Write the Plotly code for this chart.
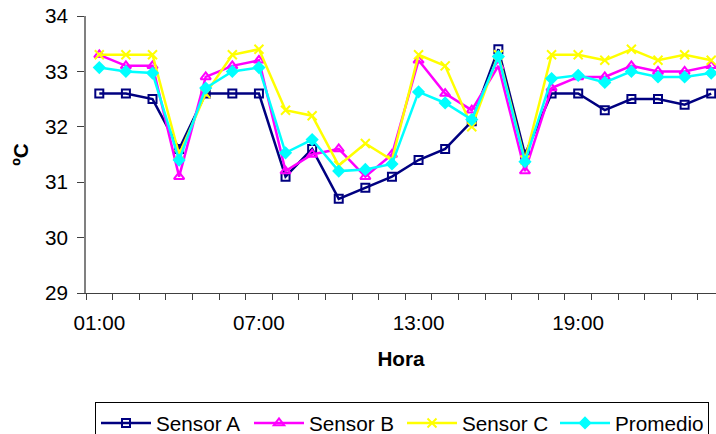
import plotly.graph_objects as go

hours = ["01:00", "02:00", "03:00", "04:00", "05:00", "06:00", "07:00", "08:00",
         "09:00", "10:00", "11:00", "12:00", "13:00", "14:00", "15:00", "16:00",
         "17:00", "18:00", "19:00", "20:00", "21:00", "22:00", "23:00", "24:00"]

sensor_a = [32.6, 32.6, 32.5, 31.6, 32.6, 32.6, 32.6, 31.1, 31.6, 30.7, 30.9, 31.1,
            31.4, 31.6, 32.1, 33.4, 31.5, 32.6, 32.6, 32.3, 32.5, 32.5, 32.4, 32.6]
sensor_b = [33.3, 33.1, 33.1, 31.1, 32.9, 33.1, 33.2, 31.2, 31.5, 31.6, 31.1, 31.5,
            33.2, 32.6, 32.3, 33.1, 31.2, 32.7, 32.9, 32.9, 33.1, 33.0, 33.0, 33.1]
sensor_c = [33.3, 33.3, 33.3, 31.5, 32.6, 33.3, 33.4, 32.3, 32.2, 31.3, 31.7, 31.4,
            33.3, 33.1, 32.0, 33.3, 31.4, 33.3, 33.3, 33.2, 33.4, 33.2, 33.3, 33.2]
promedio = [33.07, 33.0, 32.97, 31.4, 32.7, 33.0, 33.07, 31.53, 31.77, 31.2, 31.23, 31.33,
            32.63, 32.43, 32.13, 33.27, 31.37, 32.87, 32.93, 32.8, 33.0, 32.9, 32.9, 32.97]

label_every = 6
x = list(range(len(hours)))

FONT = "Liberation Sans, Arial, sans-serif"
FS = 20.7

series = [
    ("Sensor A", sensor_a, "#000080", "square-open", 8),
    ("Sensor B", sensor_b, "#FF00FF", "triangle-up-open", 9),
    ("Sensor C", sensor_c, "#FFFF00", "x-thin", 9),
    ("Promedio", promedio, "#00FFFF", "diamond", 8),
]

fig = go.Figure()
for name, vals, color, sym, size in series:
    fig.add_trace(go.Scatter(
        x=x, y=vals, name=name, mode="lines+markers",
        line=dict(color=color, width=2.5),
        marker=dict(symbol=sym, size=size, color=color,
                    line=dict(color=color, width=2)),
    ))

fig.update_layout(
    width=716, height=434,
    margin=dict(l=86, r=0, t=16, b=141),
    paper_bgcolor="white", plot_bgcolor="white",
    font=dict(family=FONT, size=FS, color="black"),
    showlegend=True,
    legend=dict(
        orientation="h", xref="container", yref="container",
        x=95 / 716, y=1 - 402 / 434, xanchor="left", yanchor="top",
        bordercolor="black", borderwidth=1, bgcolor="white",
        font=dict(family=FONT, size=FS),
        itemwidth=50, entrywidth=88, entrywidthmode="pixels",
        traceorder="normal",
    ),
)

fig.update_xaxes(
    range=[-0.5, 23.18],
    tickvals=x[::label_every], ticktext=hours[::label_every],
    ticks="outside", ticklen=6, tickcolor="rgba(0,0,0,0)",
    ticklabelstandoff=5,
    minor=dict(tick0=-0.5, dtick=1, ticks="outside", ticklen=6,
               tickcolor="#404040", tickwidth=1, showgrid=False),
    showline=True, linecolor="#404040", linewidth=1,
    showgrid=False, zeroline=False,
    title=dict(text="<b>Hora</b>", font=dict(family=FONT, size=FS), standoff=18),
)
fig.update_yaxes(
    range=[29, 34], dtick=1, tick0=29,
    ticks="outside", ticklen=7, tickcolor="#404040", tickwidth=1,
    ticklabelstandoff=5,
    showline=True, linecolor="#808080", linewidth=1.5,
    showgrid=False, zeroline=False,
    title=dict(text="<b>ºC</b>", font=dict(family=FONT, size=FS), standoff=11),
)

fig.write_html("out.html")
